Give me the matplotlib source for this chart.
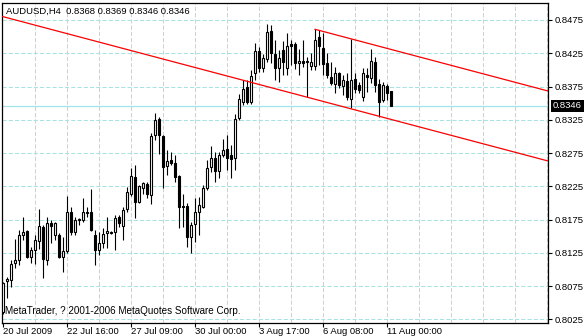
import numpy as np
import matplotlib.pyplot as plt
import matplotlib.transforms as mtransforms
from matplotlib.patches import Rectangle

plt.rcParams['font.family'] = ['Liberation Sans', 'DejaVu Sans']

# AUDUSD H4 candles (oldest first)
opens = [
    .8036, .8082, .8084, .8110, .8114, .8152, .8158, .8119, .8129, .8143,
    .8164, .8114, .8170, .8152, .8152, .8119, .8128, .8186, .8156, .8176,
    .8174, .8186, .8186, .8152, .8129, .8140, .8155, .8157, .8156, .8179,
    .8165, .8191, .8214, .8239, .8201, .8223, .8229, .8212, .8302, .8326,
    .8301, .8256, .8265, .8260, .8240, .8195, .8195, .8149, .8168, .8186,
    .8194, .8222, .8254, .8268, .8248, .8272, .8281, .8272, .8268, .8328,
    .8352, .8374, .8352, .8395, .8428, .8403, .8416, .8458, .8424, .8403,
    .8430, .8403, .8439, .8439, .8410, .8413, .8413, .8406, .8406, .8450,
    .8433, .8410, .8389, .8379, .8395, .8376, .8383, .8356, .8386, .8378,
    .8359, .8392, .8388, .8412, .8379, .8355, .8376, .8368]
highs = [
    .8081, .8089, .8114, .8146, .8159, .8179, .8159, .8134, .8152, .8191,
    .8167, .8179, .8174, .8171, .8155, .8149, .8210, .8194, .8179, .8177,
    .8208, .8194, .8221, .8159, .8156, .8162, .8179, .8158, .8182, .8182,
    .8194, .8224, .8253, .8257, .8227, .8231, .8232, .8305, .8335, .8329,
    .8302, .8280, .8277, .8272, .8242, .8214, .8200, .8171, .8208, .8209,
    .8227, .8265, .8286, .8277, .8277, .8296, .8302, .8287, .8334, .8364,
    .8385, .8385, .8400, .8441, .8434, .8424, .8469, .8467, .8445, .8430,
    .8443, .8455, .8445, .8442, .8431, .8445, .8419, .8425, .8461, .8460,
    .8455, .8425, .8412, .8404, .8397, .8392, .8395, .8447, .8395, .8382,
    .8403, .8403, .8431, .8419, .8387, .8382, .8379, .8369]
lows = [
    .8033, .8057, .8074, .8102, .8107, .8144, .8117, .8110, .8108, .8131,
    .8087, .8107, .8140, .8144, .8117, .8096, .8125, .8152, .8152, .8167,
    .8171, .8179, .8158, .8107, .8122, .8132, .8132, .8154, .8129, .8164,
    .8144, .8186, .8210, .8177, .8200, .8214, .8207, .8198, .8295, .8274,
    .8222, .8242, .8257, .8231, .8162, .8164, .8134, .8125, .8141, .8152,
    .8192, .8220, .8247, .8231, .8238, .8269, .8250, .8238, .8250, .8325,
    .8347, .8349, .8349, .8385, .8397, .8397, .8412, .8410, .8385, .8382,
    .8393, .8393, .8407, .8401, .8393, .8404, .8359, .8400, .8400, .8407,
    .8393, .8388, .8378, .8366, .8373, .8362, .8355, .8343, .8365, .8365,
    .8353, .8367, .8380, .8367, .8329, .8352, .8355, .8346]
closes = [
    .8080, .8085, .8108, .8114, .8152, .8156, .8119, .8129, .8144, .8165,
    .8116, .8170, .8165, .8170, .8119, .8128, .8186, .8156, .8174, .8174,
    .8186, .8185, .8159, .8129, .8140, .8153, .8158, .8155, .8177, .8170,
    .8189, .8217, .8240, .8201, .8225, .8230, .8214, .8301, .8325, .8302,
    .8254, .8263, .8260, .8239, .8194, .8194, .8149, .8167, .8186, .8197,
    .8223, .8253, .8268, .8248, .8272, .8280, .8268, .8266, .8326, .8356,
    .8371, .8352, .8391, .8428, .8403, .8418, .8457, .8425, .8403, .8418,
    .8412, .8436, .8436, .8410, .8413, .8410, .8412, .8412, .8445, .8436,
    .8409, .8393, .8381, .8395, .8378, .8385, .8359, .8385, .8371, .8370,
    .8395, .8389, .8413, .8378, .8352, .8378, .8366, .8346]

time_labels = ['20 Jul 2009', '22 Jul 16:00', '27 Jul 09:00', '30 Jul 00:00',
               '3 Aug 17:00', '6 Aug 08:00', '11 Aug 00:00']
price_ticks = [0.8025, 0.8075, 0.8125, 0.8175, 0.8225, 0.8275,
               0.8325, 0.8375, 0.8425, 0.8475]
bid = 0.8346

# channel: lower line through two bars, upper parallel line starts at a high
lower_bars = [0, 76]
lower_prices = [0.8480, 0.8359]
upper_bar = 78
upper_price = 0.8461

grid_col = '#a8e2e2'

fig = plt.figure(figsize=(5.84, 3.36), dpi=100)
ax = fig.add_axes([2 / 584, 13.5 / 336, 546 / 584, 320 / 336])
x_lo, x_hi = -0.25, 136.25
ax.set_xlim(x_lo, x_hi)
ax.set_ylim(0.80203, 0.85013)

# grid
for p in price_ticks:
    ax.axhline(p, color=grid_col, lw=0.75, ls=(0, (4, 2)), zorder=0)
for gx in range(8, 137, 8):
    ax.axvline(gx, color=grid_col, lw=0.75, ls=(0, (4, 2)), zorder=0)
ax.axhline(bid, color='#a0e4ec', lw=0.9, zorder=1)

# candles
idx = np.arange(len(opens))
o = np.array(opens)
c = np.array(closes)
up = c >= o
ax.vlines(idx, lows, highs, color='black', lw=0.8, zorder=3)
ax.bar(idx[up], (c - o)[up], bottom=o[up], width=0.5, facecolor='white',
       edgecolor='black', lw=0.8, zorder=4)
ax.bar(idx[~up], (o - c)[~up], bottom=c[~up], width=0.5, facecolor='black',
       edgecolor='black', lw=0.8, zorder=4)

# channel lines
slope = (lower_prices[1] - lower_prices[0]) / (lower_bars[1] - lower_bars[0])
ax.plot([x_lo, x_hi],
        [lower_prices[0] + slope * (x_lo - lower_bars[0]),
         lower_prices[0] + slope * (x_hi - lower_bars[0])],
        color='red', lw=0.9, zorder=5)
ax.plot([upper_bar, x_hi],
        [upper_price, upper_price + slope * (x_hi - upper_bar)],
        color='red', lw=0.9, zorder=5)

# axes
for s in ax.spines.values():
    s.set_color('black')
    s.set_linewidth(0.9)
ax.yaxis.tick_right()
ax.set_yticks(price_ticks)
ax.set_yticklabels(['%.4f' % p for p in price_ticks])
ax.set_xticks(range(0, 16 * len(time_labels), 16))
ax.set_xticklabels(time_labels, ha='left')
ax.tick_params(axis='y', length=3, width=0.8, pad=2, labelsize=6.8)
ax.tick_params(axis='x', length=3, width=0.8, pad=0, labelsize=6.8)

# bid price box on the right
tr = mtransforms.blended_transform_factory(fig.transFigure, ax.transData)
ax.add_patch(Rectangle((550.5 / 584, bid - 0.00088), 34 / 584, 0.00176,
                       transform=tr, facecolor='black', edgecolor='none',
                       clip_on=False, zorder=6))
fig.text(553 / 584, bid, '%.4f' % bid, transform=tr, color='white',
         fontsize=6.8, va='center', ha='left', zorder=7)

ax.text(0.0075, 0.973, 'AUDUSD,H4  0.8368 0.8369 0.8346 0.8346',
        transform=ax.transAxes, fontsize=6.8, va='center', ha='left')
ax.text(0.0055, 0.037, 'MetaTrader, ? 2001-2006 MetaQuotes Software Corp.',
        transform=ax.transAxes, fontsize=7.1, va='center', ha='left')

fig.savefig('out.png', dpi=100, facecolor='white')
